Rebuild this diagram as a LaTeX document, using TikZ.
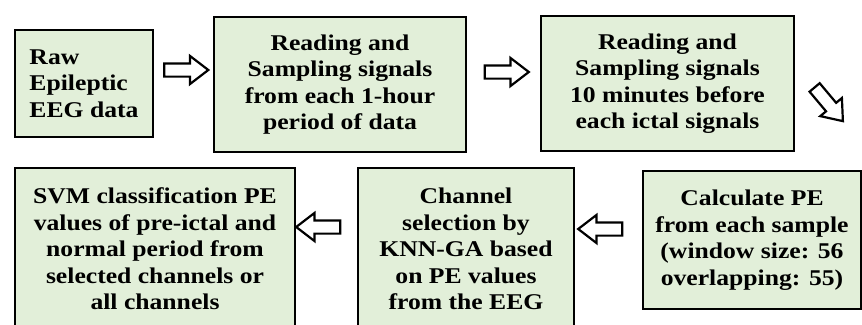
\documentclass[tikz,border=0pt]{standalone}
\usepackage{fontspec}
\setmainfont[FakeStretch=1.14]{Liberation Serif}
\usetikzlibrary{shapes.arrows,calc}
\definecolor{boxfill}{HTML}{E2EFD9}
\tikzset{
  box/.style={draw, fill=boxfill, line width=2pt, inner sep=0pt, align=center,
    font=\fontsize{22.5}{26.5}\selectfont\bfseries},
  thickbox/.style={box, line width=2.8pt},
  barrow/.style={single arrow, draw, fill=white, line width=2.2pt,
    minimum width=26pt, minimum height=44pt, single arrow head extend=7.5pt,
    single arrow tip angle=75, inner xsep=0pt, inner ysep=5.5pt},
}
\begin{document}
\begin{tikzpicture}[x=1pt,y=-1pt]
\clip (0,0) rectangle (862,324);
\fill[white] (0,0) rectangle (862,324);
\node[box, align=left, minimum width=138pt, minimum height=107pt] (b1) at (84,83.5) {Raw\\Epileptic\\EEG data};
\node[thickbox, minimum width=252pt, minimum height=135pt] (b2) at (340,84.5) {Reading and\\Sampling signals\\from each 1-hour\\period of data};
\node[thickbox, minimum width=253pt, minimum height=135pt] (b3) at (667.5,83.5) {Reading and\\Sampling signals\\10 minutes before\\each ictal signals};
\node[box, minimum width=218pt, minimum height=138pt] (b4) at (752,240) {Calculate PE\\from each sample\\(window size: 56\\overlapping: 55)};
\node[thickbox, minimum width=216pt, minimum height=162pt] (b5) at (466,249) {Channel\\selection by\\KNN-GA based\\on PE values\\from the EEG};
\node[thickbox, minimum width=280pt, minimum height=162pt] (b6) at (155,249) {SVM classification PE\\values of pre-ictal and\\normal period from\\selected channels or\\all channels};
\node[barrow] (a1) at (182,70) {};
\node[barrow] (a2) at (502.5,72) {};
\node[barrow, rotate=-50] (a3) at (826,101) {};
\node[barrow, rotate=180] (a4) at (604.5,229) {};
\node[barrow, rotate=180] (a5) at (322.5,227) {};
\end{tikzpicture}
\end{document}
